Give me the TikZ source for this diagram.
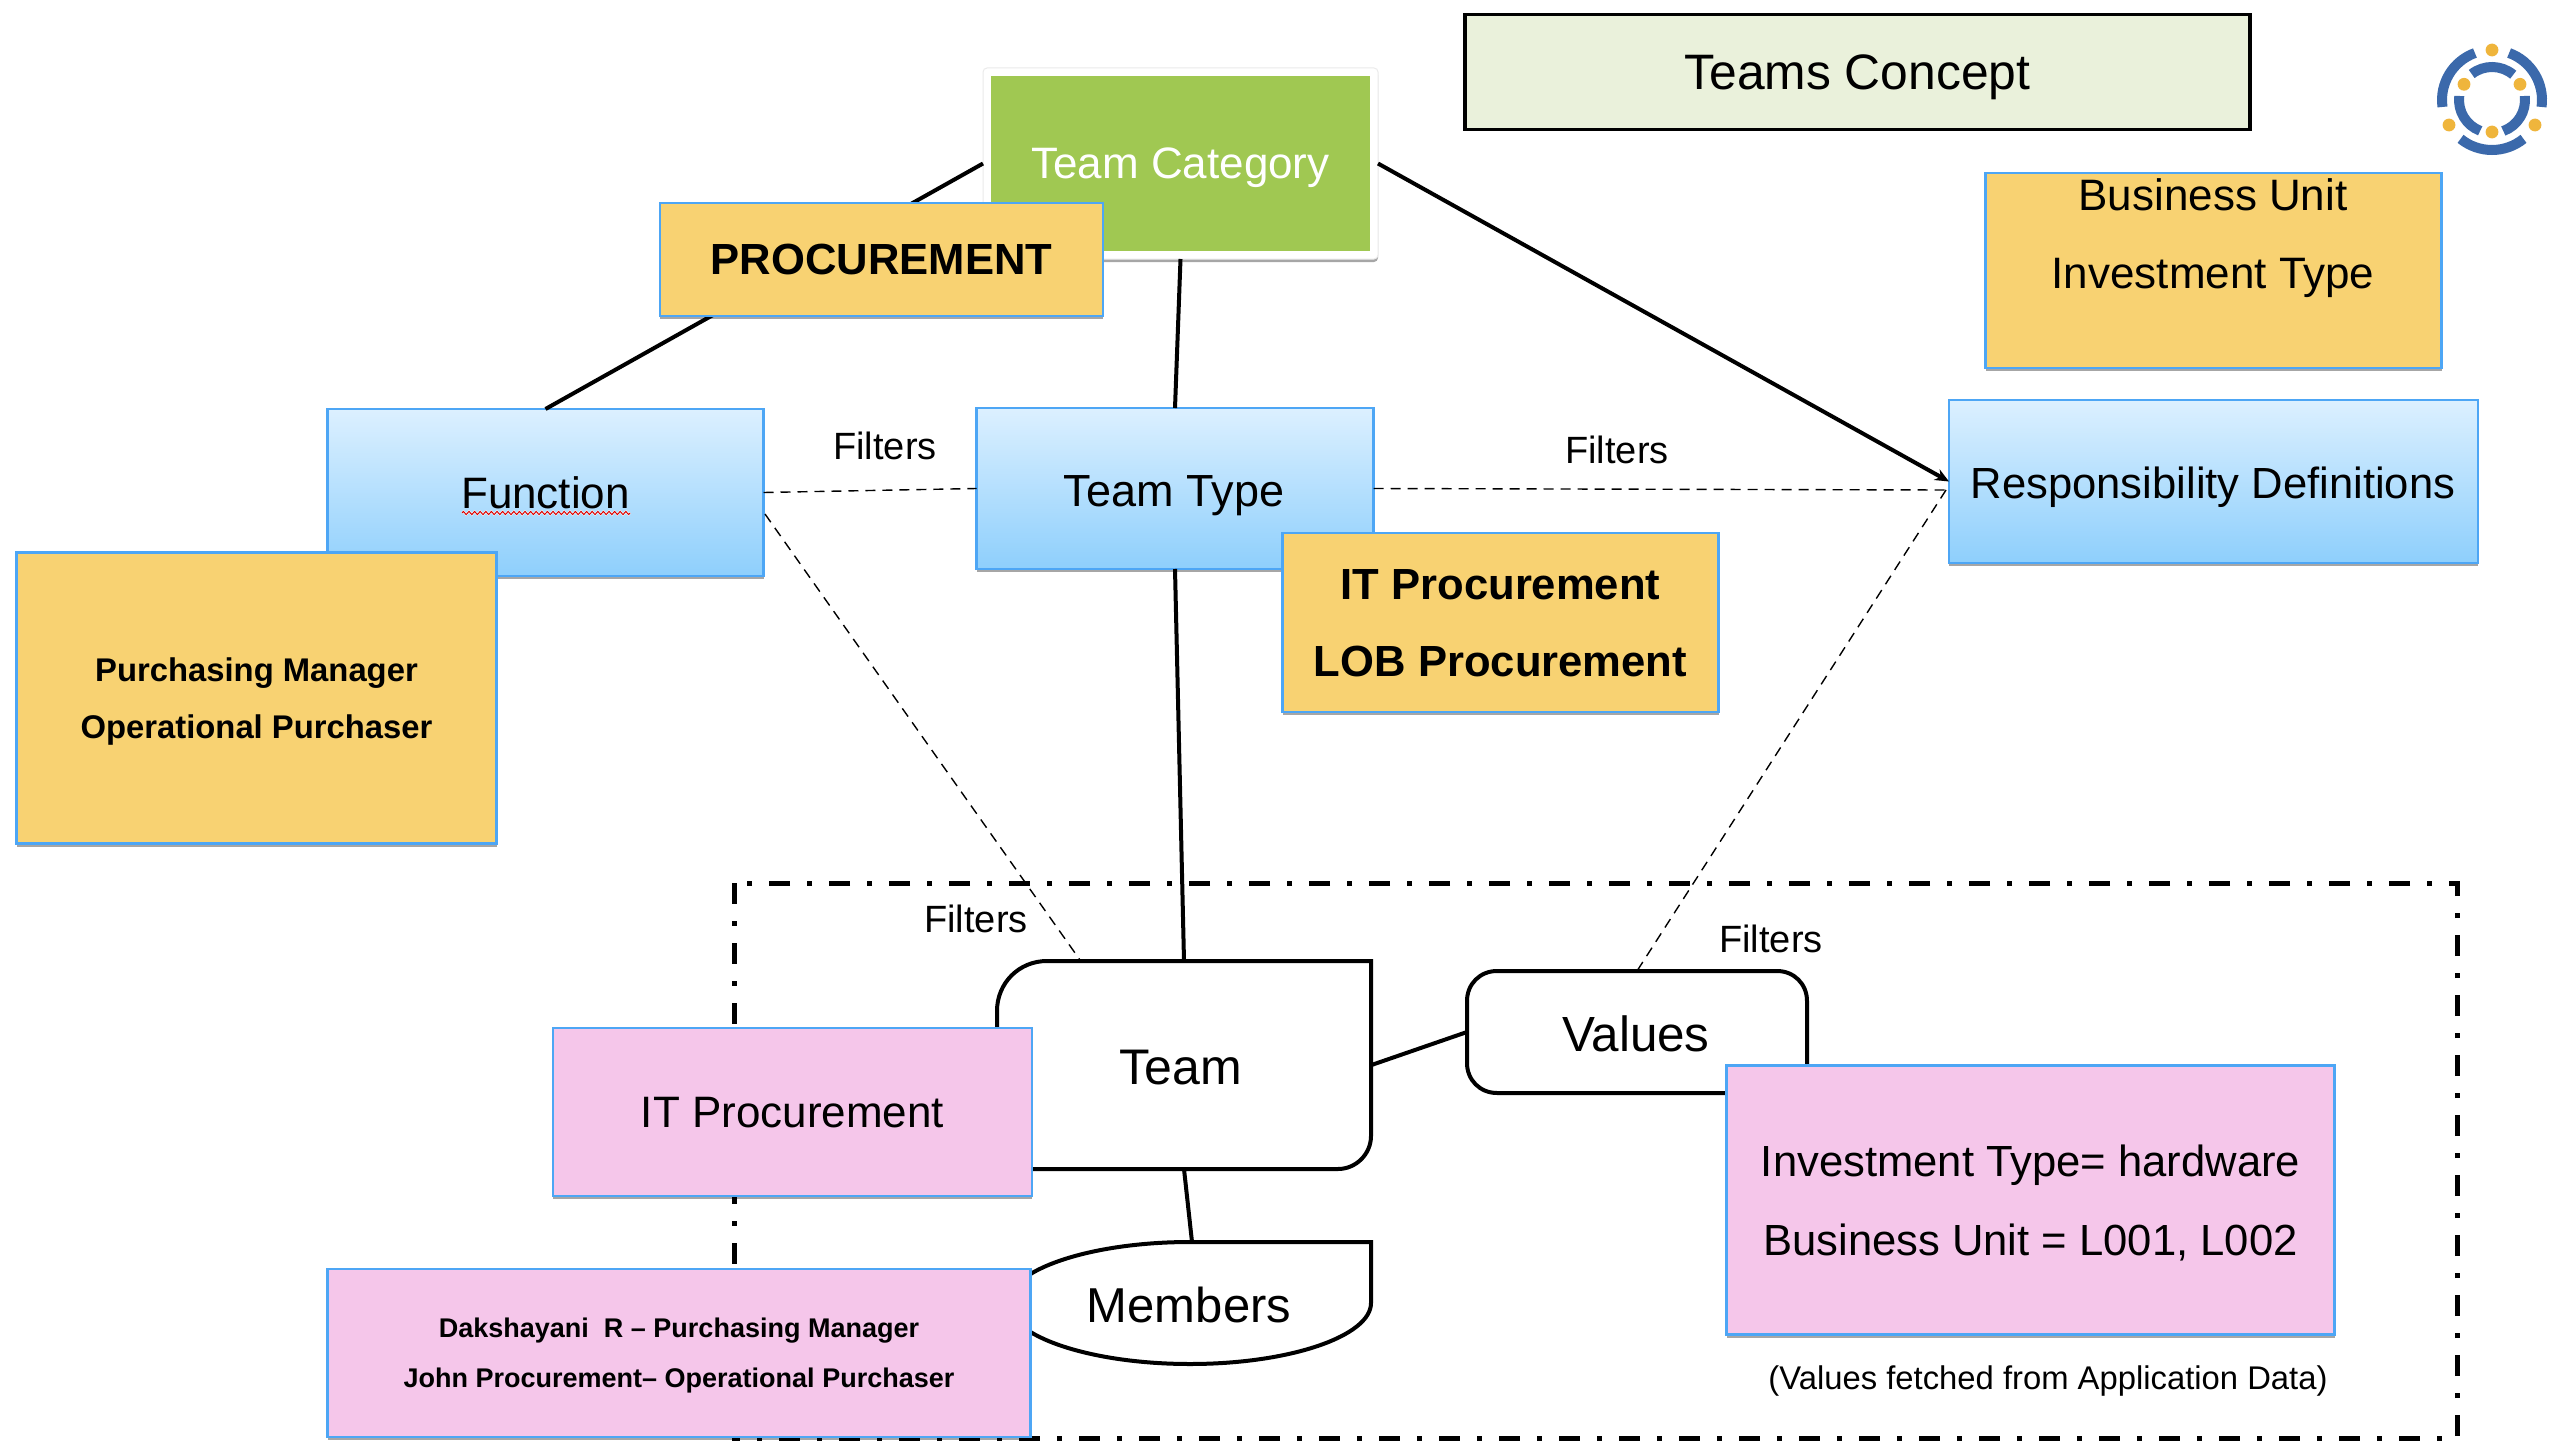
\documentclass[tikz,border=0pt]{standalone}
\usepackage{fontspec}
\setmainfont{Liberation Sans}
\usetikzlibrary{shadows,arrows.meta,decorations.pathmorphing}
\definecolor{bord}{HTML}{4DA6F5}
\definecolor{yel}{HTML}{F8D272}
\definecolor{pinkb}{HTML}{F5C6EA}
\definecolor{grn}{HTML}{A0C852}
\definecolor{ttl}{HTML}{EAF1DB}
\definecolor{bluet}{HTML}{DCF0FF}
\definecolor{blueb}{HTML}{8ECFFC}
\definecolor{lblue}{HTML}{3B69AB}
\definecolor{lyel}{HTML}{EFB53C}
\newcommand{\fs}[2]{\fontsize{#1pt}{#2pt}\selectfont}
\tikzset{
  x=0.5pt,y=-0.5pt,
  shad/.style={drop shadow={shadow xshift=0pt,shadow yshift=-1.5pt,opacity=0.35,fill=black}},
  box/.style={rectangle,inner sep=0pt,outer sep=0pt,align=center,text depth=0pt,draw=bord,line width=1.2pt,shad},
  yelbox/.style={box,fill=yel},
  pinkbox/.style={box,fill=pinkb},
  bluebox/.style={box,top color=bluet,bottom color=blueb,font=\fs{22}{26}},
  plain/.style={rectangle,inner sep=0pt,outer sep=0pt,align=center,text depth=0pt},
  heavy/.style={line width=2pt,draw=black},
  thind/.style={line width=0.7pt,draw=black,dash pattern=on 5pt off 3.5pt},
  filt/.style={plain,font=\fs{19}{22}},
  frameline/.style={line width=2.5pt,draw=black,dash pattern=on 10.5pt off 8.5pt on 2.5pt off 8.5pt},
  logoarc/.style={line width=5pt,draw=lblue},
  logodot/.style={fill=lyel}
}
\begin{document}
\begin{tikzpicture}
\useasboundingbox (0,0) rectangle (2576,1450);
\fill[white] (0,0) rectangle (2576,1450);

% dash-dot frame
\draw[frameline] (734,883) rectangle (2457,1438);

% main boxes
\node[plain,minimum width=197.5pt,minimum height=95.5pt,fill=white,draw=black!8,line width=0.5pt,rounded corners=2pt,shad] (catframe) at (1180.5,163.5) {};
\node[plain,minimum width=189.5pt,minimum height=87.5pt,fill=grn,text=white,font=\fs{22}{26}] (cat) at (1180.5,163.5) {Team Category};
\node[bluebox,minimum width=218pt,minimum height=83.5pt] (func) at (545.5,492.5) {Function};
\draw[white,line width=1pt,decorate,decoration={zigzag,segment length=2.8pt,amplitude=0.8pt}] (462,513) -- (630,513);
\draw[red!85!black,line width=0.5pt,decorate,decoration={zigzag,segment length=2.8pt,amplitude=0.8pt}] (462,513) -- (630,513);
\node[bluebox,minimum width=198.5pt,minimum height=80.5pt,font=\fs{22.5}{26}] (tt) at (1175,488.5) {};
\node[plain,font=\fs{22.5}{26}] (ttlabel) at (1174,491) {Team Type};
\node[bluebox,minimum width=264.5pt,minimum height=81.5pt] (resp) at (2213.5,481.5) {};
\node[plain,font=\fs{21.8}{26}] (resplabel) at (2213,483) {Responsibility Definitions};

% team, values, members
\node[plain,minimum width=187.5pt,minimum height=104pt] (team) at (1184,1065) {};
\node[plain,minimum width=170pt,minimum height=61pt] (values) at (1637,1032) {};
\node[plain,minimum width=179.5pt,minimum height=61pt] (members) at (1192,1303) {};
\draw[heavy,fill=white] (997,1169) -- (997,1011) .. controls (997,983) and (1019,961) .. (1047,961) -- (1371,961) -- (1371,1136) .. controls (1371,1154) and (1356,1169) .. (1338,1169) -- cycle;
\draw[heavy,fill=white] (1467,1001) .. controls (1467,984) and (1480,971) .. (1497,971) -- (1777,971) .. controls (1794,971) and (1807,984) .. (1807,1001) -- (1807,1093) -- (1497,1093) .. controls (1480,1093) and (1467,1080) .. (1467,1063) -- cycle;
\draw[heavy,fill=white] (1371,1242) -- (1190,1242) .. controls (1090,1242) and (1008,1270) .. (1008,1303) .. controls (1008,1336) and (1090,1364) .. (1190,1364) .. controls (1290,1364) and (1371,1336) .. (1371,1303) -- cycle;
\node[plain,font=\fs{25}{28}] (teamlabel) at (1181,1067) {Team};
\node[plain,font=\fs{24.7}{28}] (valueslabel) at (1636,1034) {Values};
\node[plain,font=\fs{24.5}{28}] (memberslabel) at (1189,1305) {Members};

% connectors
\coordinate (respin) at (1946,490);
\draw[heavy] (catframe.west) -- (func.north);
\draw[heavy] (catframe.south) -- (tt.north);
\draw[heavy,-{Stealth[length=7pt,width=6pt]}] (catframe.east) -- (resp.west);
\draw[heavy] (tt.south) -- (team.north);
\draw[heavy] (team.south) -- (members.north);
\draw[heavy] (team.east) -- (values.west);
\draw[thind] (func.east) -- (tt.west);
\draw[thind] (tt.east) -- (respin);
\coordinate (funcout) at (765,514);
\coordinate (teamin) at (1080,960);
\draw[thind] (funcout) -- (teamin);
\draw[thind] (respin) -- (values.north);

% labels
\node[filt] (f1) at (885,446) {Filters};
\node[filt] (f2) at (1617,450) {Filters};
\node[filt] (f3) at (976,919) {Filters};
\node[filt] (f4) at (1771,939) {Filters};

% overlay boxes
\node[yelbox,minimum width=221.5pt,minimum height=56.5pt,font=\fs{21.8}{26}\bfseries] (proc) at (881.5,259.5) {PROCUREMENT};
\node[rectangle,inner sep=0pt,outer sep=0pt,text depth=0pt,fill=ttl,draw=black,line width=1.75pt,minimum width=392.5pt,minimum height=57.5pt,font=\fs{24.9}{28}] (title) at (1857.5,72) {Teams Concept};
\node[yelbox,minimum width=228pt,minimum height=97.5pt] (bu) at (2213.5,270.5) {};
\node[plain,font=\fs{22}{39}] (butext) at (2213,234) {Business Unit\\Investment Type};
\node[yelbox,minimum width=218pt,minimum height=89.5pt,font=\fs{21.8}{38.5}\bfseries] (itlob) at (1500.5,622.5) {IT Procurement\\LOB Procurement};
\node[yelbox,minimum width=240pt,minimum height=145.5pt,font=\fs{16.4}{28.5}\bfseries] (purch) at (256.5,698) {Purchasing Manager\\Operational Purchaser};
\node[pinkbox,minimum width=239.5pt,minimum height=84pt,font=\fs{22}{26}] (itp) at (792.5,1112) {IT Procurement};
\node[pinkbox,minimum width=351.5pt,minimum height=84pt,font=\fs{13.5}{25}\bfseries] (dak) at (679,1353) {Dakshayani\ \ R – Purchasing Manager\\John Procurement– Operational Purchaser};
\node[pinkbox,minimum width=304pt,minimum height=134.5pt,font=\fs{21.8}{39.5}] (inv) at (2030.5,1200) {Investment Type= hardware\\Business Unit = L001, L002};
\node[plain,font=\fs{16.4}{20}] (note) at (2048,1377.5) {(Values fetched from Application Data)};

% logo
\begin{scope}[shift={(2492,100)},x=0.5pt,y=0.5pt]
  \foreach \a/\b in {70/-8,110/188,231/309}
    \draw[logoarc] (\a:25pt) arc[start angle=\a,end angle=\b,radius=25pt];
  \foreach \a/\b in {50/128,7/-70,173/249}
    \draw[logoarc] (\a:16.5pt) arc[start angle=\a,end angle=\b,radius=16.5pt];
  \foreach \px/\py in {0/50,-28/15.7,28/15.7,0/-32,-43/-25,43/-25}
    \fill[logodot] (\px,\py) circle[radius=3.2pt];
\end{scope}
\end{tikzpicture}
\end{document}
